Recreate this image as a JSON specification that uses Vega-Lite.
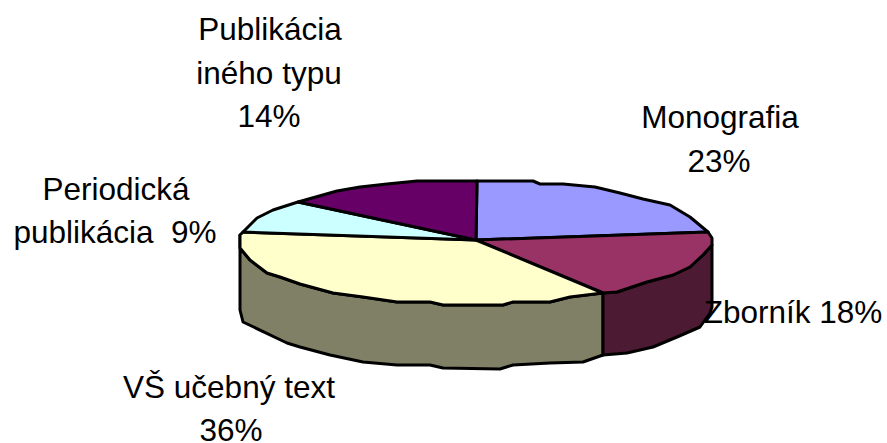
{"$schema":"https://vega.github.io/schema/vega-lite/v6.json","width":887,"height":443,"padding":0,"autosize":{"type":"none"},"background":"white","view":{"stroke":null},
"config":{"axis":{"disable":true}},
"layer":[
{"data":{"values":[
{"s":"a VŠ učebný text bok","o":1,"h":240,"v":235},{"s":"a VŠ učebný text bok","o":2,"h":240,"v":248},{"s":"a VŠ učebný text bok","o":3,"h":250,"v":260},{"s":"a VŠ učebný text bok","o":4,"h":267,"v":273},{"s":"a VŠ učebný text bok","o":5,"h":280,"v":277},{"s":"a VŠ učebný text bok","o":6,"h":300,"v":284},{"s":"a VŠ učebný text bok","o":7,"h":333,"v":293},{"s":"a VŠ učebný text bok","o":8,"h":363,"v":297},{"s":"a VŠ učebný text bok","o":9,"h":397,"v":302},{"s":"a VŠ učebný text bok","o":10,"h":430,"v":302},{"s":"a VŠ učebný text bok","o":11,"h":443,"v":305},{"s":"a VŠ učebný text bok","o":12,"h":503,"v":305},{"s":"a VŠ učebný text bok","o":13,"h":513,"v":302},{"s":"a VŠ učebný text bok","o":14,"h":550,"v":302},{"s":"a VŠ učebný text bok","o":15,"h":570,"v":297},{"s":"a VŠ učebný text bok","o":16,"h":603,"v":293},{"s":"a VŠ učebný text bok","o":17,"h":603,"v":355},{"s":"a VŠ učebný text bok","o":18,"h":583,"v":362},{"s":"a VŠ učebný text bok","o":19,"h":550,"v":363},{"s":"a VŠ učebný text bok","o":20,"h":513,"v":365},{"s":"a VŠ učebný text bok","o":21,"h":500,"v":369},{"s":"a VŠ učebný text bok","o":22,"h":443,"v":368},{"s":"a VŠ učebný text bok","o":23,"h":430,"v":365},{"s":"a VŠ učebný text bok","o":24,"h":397,"v":365},{"s":"a VŠ učebný text bok","o":25,"h":363,"v":362},{"s":"a VŠ učebný text bok","o":26,"h":330,"v":355},{"s":"a VŠ učebný text bok","o":27,"h":300,"v":347},{"s":"a VŠ učebný text bok","o":28,"h":287,"v":343},{"s":"a VŠ učebný text bok","o":29,"h":243,"v":322},{"s":"a VŠ učebný text bok","o":30,"h":240,"v":310},
{"s":"b Zborník bok","o":1,"h":603,"v":293},{"s":"b Zborník bok","o":2,"h":617,"v":292},{"s":"b Zborník bok","o":3,"h":647,"v":282},{"s":"b Zborník bok","o":4,"h":673,"v":275},{"s":"b Zborník bok","o":5,"h":690,"v":267},{"s":"b Zborník bok","o":6,"h":703,"v":255},{"s":"b Zborník bok","o":7,"h":712,"v":245},{"s":"b Zborník bok","o":8,"h":712,"v":307},{"s":"b Zborník bok","o":9,"h":710,"v":313},{"s":"b Zborník bok","o":10,"h":700,"v":327},{"s":"b Zborník bok","o":11,"h":677,"v":337},{"s":"b Zborník bok","o":12,"h":653,"v":347},{"s":"b Zborník bok","o":13,"h":627,"v":353},{"s":"b Zborník bok","o":14,"h":603,"v":355},
{"s":"c Monografia","o":1,"h":476,"v":240},{"s":"c Monografia","o":2,"h":477,"v":181},{"s":"c Monografia","o":3,"h":533,"v":181},{"s":"c Monografia","o":4,"h":540,"v":184},{"s":"c Monografia","o":5,"h":563,"v":184},{"s":"c Monografia","o":6,"h":595,"v":187},{"s":"c Monografia","o":7,"h":620,"v":193},{"s":"c Monografia","o":8,"h":643,"v":199},{"s":"c Monografia","o":9,"h":670,"v":205},{"s":"c Monografia","o":10,"h":690,"v":217},{"s":"c Monografia","o":11,"h":708,"v":232},
{"s":"d Zborník","o":1,"h":476,"v":240},{"s":"d Zborník","o":2,"h":708,"v":232},{"s":"d Zborník","o":3,"h":712,"v":238},{"s":"d Zborník","o":4,"h":712,"v":245},{"s":"d Zborník","o":5,"h":703,"v":255},{"s":"d Zborník","o":6,"h":690,"v":267},{"s":"d Zborník","o":7,"h":673,"v":275},{"s":"d Zborník","o":8,"h":647,"v":282},{"s":"d Zborník","o":9,"h":617,"v":292},{"s":"d Zborník","o":10,"h":603,"v":293},
{"s":"e VŠ učebný text","o":1,"h":476,"v":240},{"s":"e VŠ učebný text","o":2,"h":603,"v":293},{"s":"e VŠ učebný text","o":3,"h":570,"v":297},{"s":"e VŠ učebný text","o":4,"h":550,"v":302},{"s":"e VŠ učebný text","o":5,"h":513,"v":302},{"s":"e VŠ učebný text","o":6,"h":503,"v":305},{"s":"e VŠ učebný text","o":7,"h":443,"v":305},{"s":"e VŠ učebný text","o":8,"h":430,"v":302},{"s":"e VŠ učebný text","o":9,"h":397,"v":302},{"s":"e VŠ učebný text","o":10,"h":363,"v":297},{"s":"e VŠ učebný text","o":11,"h":333,"v":293},{"s":"e VŠ učebný text","o":12,"h":300,"v":284},{"s":"e VŠ učebný text","o":13,"h":280,"v":277},{"s":"e VŠ učebný text","o":14,"h":267,"v":273},{"s":"e VŠ učebný text","o":15,"h":250,"v":260},{"s":"e VŠ učebný text","o":16,"h":240,"v":248},{"s":"e VŠ učebný text","o":17,"h":240,"v":235},{"s":"e VŠ učebný text","o":18,"h":243,"v":232},
{"s":"f Periodická publikácia","o":1,"h":476,"v":240},{"s":"f Periodická publikácia","o":2,"h":243,"v":232},{"s":"f Periodická publikácia","o":3,"h":257,"v":218},{"s":"f Periodická publikácia","o":4,"h":273,"v":210},{"s":"f Periodická publikácia","o":5,"h":298,"v":202},
{"s":"g Publikácia iného typu","o":1,"h":476,"v":240},{"s":"g Publikácia iného typu","o":2,"h":298,"v":202},{"s":"g Publikácia iného typu","o":3,"h":337,"v":191},{"s":"g Publikácia iného typu","o":4,"h":360,"v":187},{"s":"g Publikácia iného typu","o":5,"h":387,"v":184},{"s":"g Publikácia iného typu","o":6,"h":417,"v":181},{"s":"g Publikácia iného typu","o":7,"h":477,"v":181}
]},
"mark":{"type":"line","interpolate":"linear-closed","stroke":"black","strokeWidth":3,"strokeJoin":"round","fillOpacity":1},
"encoding":{
"x":{"field":"h","type":"quantitative","scale":{"domain":[0,887],"range":[0,887]},"axis":null},
"y":{"field":"v","type":"quantitative","scale":{"domain":[0,443],"range":[0,443]},"axis":null},
"order":{"field":"o","type":"quantitative"},
"detail":{"field":"s"},
"fill":{"field":"s","type":"nominal","legend":null,"scale":{"domain":["a VŠ učebný text bok","b Zborník bok","c Monografia","d Zborník","e VŠ učebný text","f Periodická publikácia","g Publikácia iného typu"],"range":["#808066","#4D1A33","#9999FF","#993366","#FFFFCC","#CCFFFF","#660066"]}}
}},
{"data":{"values":[
{"t":"Publikácia","h":270,"v":40},{"t":"iného typu","h":269,"v":84},{"t":"14%","h":269,"v":127},
{"t":"Monografia","h":720,"v":128},{"t":"23%","h":719,"v":172},
{"t":"Periodická","h":116,"v":200},{"t":"publikácia\u00a0\u00a09%","h":115,"v":243},
{"t":"Zborník 18%","h":793,"v":323},
{"t":"VŠ učebný text","h":229,"v":398},{"t":"36%","h":231,"v":441}
]},
"mark":{"type":"text","font":"Liberation Sans","fontSize":31.5,"align":"center","baseline":"alphabetic","color":"black"},
"encoding":{
"x":{"field":"h","type":"quantitative","scale":{"domain":[0,887],"range":[0,887]},"axis":null},
"y":{"field":"v","type":"quantitative","scale":{"domain":[0,443],"range":[0,443]},"axis":null},
"text":{"field":"t"}
}}
]}
